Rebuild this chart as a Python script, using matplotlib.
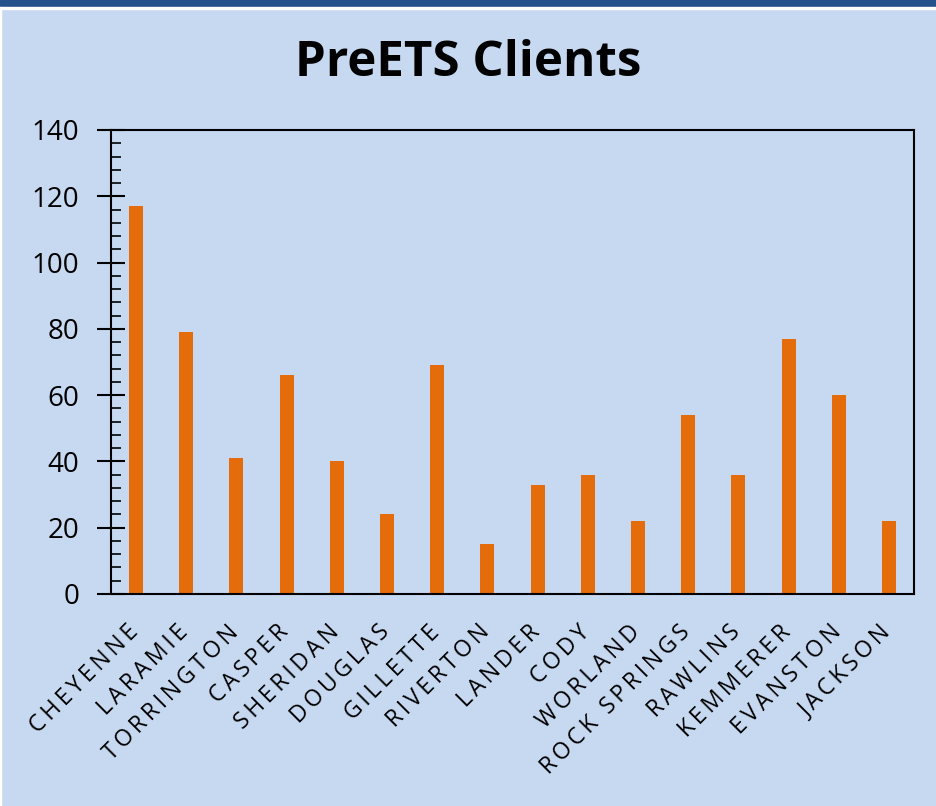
import matplotlib.pyplot as plt
import matplotlib.patches as mpatches
import matplotlib.transforms as mtransforms
import numpy as np

# data
offices = ['CHEYENNE', 'LARAMIE', 'TORRINGTON', 'CASPER', 'SHERIDAN', 'DOUGLAS',
           'GILLETTE', 'RIVERTON', 'LANDER', 'CODY', 'WORLAND', 'ROCK SPRINGS',
           'RAWLINS', 'KEMMERER', 'EVANSTON', 'JACKSON']
clients = [117, 79, 41, 66, 40, 24, 69, 15, 33, 36, 22, 54, 36, 77, 60, 22]

bg = '#C6D9F1'
orange = '#E46C0A'

plt.rcParams['font.family'] = ['Open Sans', 'DejaVu Sans']

fig = plt.figure(figsize=(9.37, 8.06), dpi=100)
fig.patch.set_facecolor(bg)

# dark band on top, white rule underneath
fig.patches.append(mpatches.Rectangle((0, 1 - 7/806), 1, 7/806, transform=fig.transFigure,
                                      color='#25528A', zorder=0))
fig.patches.append(mpatches.Rectangle((0, 1 - 9/806), 1, 2/806, transform=fig.transFigure,
                                      color='white', zorder=0))
fig.patches.append(mpatches.Rectangle((0, 0), 1/937, 1 - 7/806, transform=fig.transFigure,
                                      color='white', zorder=0))

ax = fig.add_axes([111/937, 1 - 594/806, (914 - 111)/937, (594 - 130)/806])
ax.set_facecolor(bg)

x = np.arange(len(offices))
ax.bar(x, clients, width=0.28, color=orange, zorder=2)

ax.set_xlim(-0.5, len(offices) - 0.5)
ax.set_ylim(0, 140)
ax.set_yticks(np.arange(0, 141, 20))
ax.set_yticks(np.arange(0, 141, 4), minor=True)
ax.tick_params(axis='y', which='major', direction='inout', length=20, width=1.5,
               labelsize=20, pad=13)
ax.tick_params(axis='y', which='minor', direction='in', length=7, width=1.2)

# Excel draws these with wide letter spacing
spaced = ['\u2009'.join(s) for s in offices]
ax.set_xticks(x)
ax.set_xticklabels(spaced, rotation=45, ha='right', va='top', rotation_mode='anchor',
                   fontsize=16.5)
ax.tick_params(axis='x', length=0, pad=19)
shift = mtransforms.ScaledTranslation(-7/72, 0, fig.dpi_scale_trans)
for lbl in ax.get_xticklabels():
    lbl.set_transform(lbl.get_transform() + shift)

for s in ax.spines.values():
    s.set_linewidth(1.5)

fig.text(0.5, 1 - 63/806, 'PreETS Clients', ha='center', va='center',
         fontsize=35.5, fontweight='bold')

fig.savefig('out.png', dpi=100, facecolor=fig.get_facecolor())
